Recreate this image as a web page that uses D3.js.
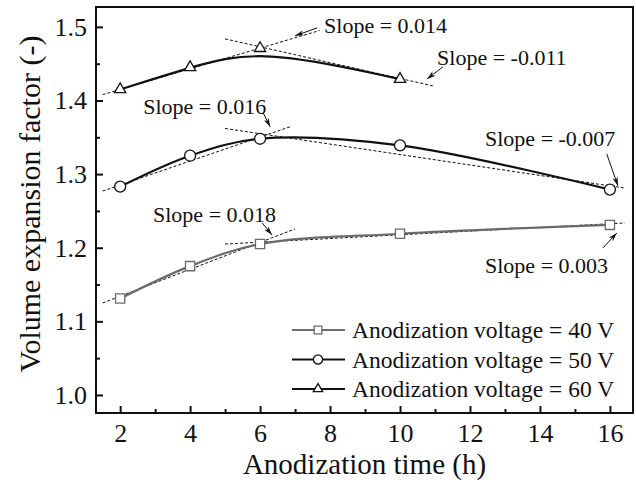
<!DOCTYPE html>
<html>
<head>
<meta charset="utf-8">
<script src="https://cdn.jsdelivr.net/npm/d3@7/dist/d3.min.js"></script>
<style>
  body { margin: 0; background: #fff; }
  text { font-family: "Liberation Serif", "Times New Roman", serif; fill: #111; }
</style>
</head>
<body>
<div id="chart"></div>
<script>
const W = 636, H = 486;
const FONT = '"Liberation Serif", "Times New Roman", serif';

// anodization time (h) per series
const times40 = [2, 4, 6, 10, 16];
const times50 = [2, 4, 6, 10, 16];
const times60 = [2, 4, 6, 10];
// volume expansion factor
const vals40 = [1.131, 1.175, 1.205, 1.219, 1.231];
const vals50 = [1.283, 1.325, 1.348, 1.339, 1.279];
const vals60 = [1.415, 1.445, 1.471, 1.429];

const xTicks = [2, 4, 6, 8, 10, 12, 14, 16];
const xMinor = [3, 5, 7, 9, 11, 13, 15];
const yTicks = [1.0, 1.1, 1.2, 1.3, 1.4, 1.5];
const yMinor = [1.05, 1.15, 1.25, 1.35, 1.45];

// tangent lines (data units): [t0, v0, t1, v1]
const tangents = [
  [1.5, 1.408, 7.7, 1.495],
  [5.0, 1.4837, 10.94, 1.4198],
  [1.5, 1.277, 6.9, 1.365],
  [5.0, 1.362, 16.43, 1.281],
  [1.5, 1.125, 7.0, 1.2255],
  [5.0, 1.205, 16.43, 1.2337]
];
// slope labels: text, left x (h), baseline (value)
const slopeLabels = ["Slope = 0.014", "Slope = -0.011", "Slope = 0.016", "Slope = -0.007", "Slope = 0.018", "Slope = 0.003"];
const labelPos = [[7.83, 1.4918], [11.06, 1.4484], [2.66, 1.3818], [12.43, 1.3383], [2.94, 1.235], [12.43, 1.1658]];
// arrows from label to tangent line: [t0, v0, t1, v1]
const arrows = [
  [7.63, 1.4986, 7.0, 1.4878],
  [11.23, 1.4457, 10.77, 1.4293],
  [6.09, 1.3832, 6.29, 1.3641],
  [15.91, 1.3274, 16.23, 1.284],
  [6.06, 1.2337, 6.34, 1.2174],
  [15.8, 1.1997, 16.2, 1.2201]
];

const series = [
  { name: "Anodization voltage = 40 V", t: times40, v: vals40, color: "#6b6b6b", sym: d3.symbolSquare, size: 85, curve: d3.curveCatmullRom },
  { name: "Anodization voltage = 50 V", t: times50, v: vals50, color: "#111", sym: d3.symbolCircle, size: 95, curve: d3.curveCatmullRom },
  { name: "Anodization voltage = 60 V", t: times60, v: vals60, color: "#111", sym: d3.symbolTriangle, size: 55, curve: d3.curveBasis }
];

const L = 96, R = 633, T = 7, B = 413;

const x = d3.scaleLinear().domain([1.31, 16.66]).range([L, R]);
const y = d3.scaleLinear().domain([0.9755, 1.527]).range([B, T]);

const svg = d3.select("#chart").append("svg")
  .attr("width", W).attr("height", H);

svg.append("defs").append("marker")
  .attr("id", "arr")
  .attr("viewBox", "0 0 10 6")
  .attr("refX", 10).attr("refY", 3)
  .attr("markerWidth", 9).attr("markerHeight", 5.4)
  .attr("markerUnits", "userSpaceOnUse")
  .attr("orient", "auto")
  .append("path")
  .attr("d", "M0,0 L10,3 L0,6 L3,3 Z")
  .attr("fill", "#111");

// axes (ticks point inward)
svg.append("g").attr("transform", `translate(0,${B})`)
  .call(d3.axisBottom(x).tickValues(xTicks).tickSizeInner(-7).tickSizeOuter(0).tickPadding(11).tickFormat(d3.format("d")));
svg.append("g").attr("transform", `translate(0,${B})`)
  .call(d3.axisBottom(x).tickValues(xMinor).tickSizeInner(-4).tickSizeOuter(0).tickFormat(""));
svg.append("g").attr("transform", `translate(${L},0)`)
  .call(d3.axisLeft(y).tickValues(yTicks).tickSizeInner(-7).tickSizeOuter(0).tickPadding(9).tickFormat(d3.format(".1f")));
svg.append("g").attr("transform", `translate(${L},0)`)
  .call(d3.axisLeft(y).tickValues(yMinor).tickSizeInner(-4).tickSizeOuter(0).tickFormat(""));

svg.selectAll(".domain").remove();
svg.selectAll(".tick line").attr("stroke", "#111").attr("stroke-width", 2);
svg.selectAll(".tick text")
  .style("font-family", FONT)
  .style("font-size", "26px").attr("fill", "#111");

svg.append("rect")
  .attr("x", L).attr("y", T).attr("width", R - L).attr("height", B - T)
  .attr("fill", "none").attr("stroke", "#111").attr("stroke-width", 2);

// axis titles
svg.append("text")
  .attr("x", (L + R) / 2).attr("y", 474)
  .attr("text-anchor", "middle").style("font-size", "29px")
  .text("Anodization time (h)");
svg.append("text")
  .attr("transform", `translate(40,${(T + B) / 2 - 6}) rotate(-90)`)
  .attr("text-anchor", "middle").style("font-size", "30px")
  .text("Volume expansion factor (-)");

// tangents
svg.append("g").selectAll("line")
  .data(tangents).join("line")
  .attr("x1", d => x(d[0])).attr("y1", d => y(d[1]))
  .attr("x2", d => x(d[2])).attr("y2", d => y(d[3]))
  .attr("stroke", "#111").attr("stroke-width", 1)
  .attr("stroke-dasharray", "3,2");

// series curves and markers
series.forEach(s => {
  const pts = s.t.map((t, i) => [t, s.v[i]]);
  svg.append("path")
    .datum(pts)
    .attr("fill", "none")
    .attr("stroke", s.color)
    .attr("stroke-width", 2.2)
    .attr("d", d3.line().x(d => x(d[0])).y(d => y(d[1])).curve(s.curve));
  svg.append("g").selectAll("path")
    .data(pts).join("path")
    .attr("transform", d => `translate(${x(d[0])},${y(d[1])})`)
    .attr("d", d3.symbol().type(s.sym).size(s.size))
    .attr("fill", "#fff")
    .attr("stroke", s.color)
    .attr("stroke-width", 1.3);
});

// arrows + slope labels
svg.append("g").selectAll("line")
  .data(arrows).join("line")
  .attr("x1", d => x(d[0])).attr("y1", d => y(d[1]))
  .attr("x2", d => x(d[2])).attr("y2", d => y(d[3]))
  .attr("stroke", "#111").attr("stroke-width", 1)
  .attr("marker-end", "url(#arr)");

svg.append("g").selectAll("text")
  .data(slopeLabels).join("text")
  .attr("x", (d, i) => x(labelPos[i][0]))
  .attr("y", (d, i) => y(labelPos[i][1]))
  .style("font-size", "22px")
  .text(d => d);

// legend
const lg = svg.append("g");
series.forEach((s, i) => {
  const cy = 330 + i * 29.5;
  lg.append("line")
    .attr("x1", 292).attr("x2", 345).attr("y1", cy).attr("y2", cy)
    .attr("stroke", s.color).attr("stroke-width", 2.2);
  lg.append("path")
    .attr("transform", `translate(318,${cy})`)
    .attr("d", d3.symbol().type(s.sym).size(s.size * 0.7))
    .attr("fill", "#fff").attr("stroke", s.color).attr("stroke-width", 1.3);
  lg.append("text")
    .attr("x", 352).attr("y", cy + 8)
    .style("font-size", "23.5px")
    .text(s.name);
});
</script>
</body>
</html>
